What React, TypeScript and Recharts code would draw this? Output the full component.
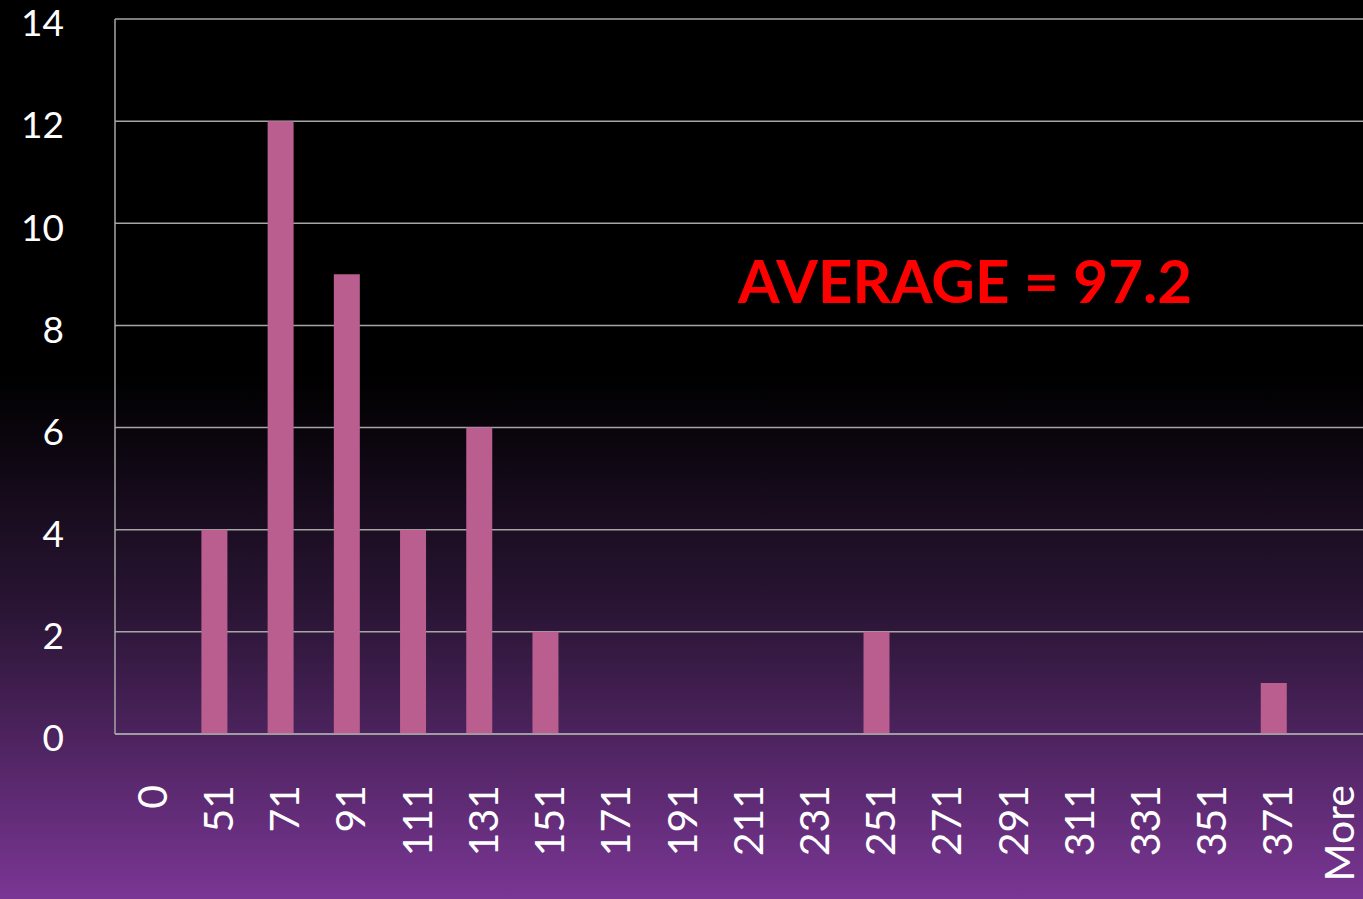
import { BarChart, Bar, XAxis, YAxis, CartesianGrid, Customized } from "recharts";

const bins = ["0", "51", "71", "91", "111", "131", "151", "171", "191", "211", "231", "251", "271", "291", "311", "331", "351", "371", "More"];
const frequency = [0, 4, 12, 9, 4, 6, 2, 0, 0, 0, 0, 2, 0, 0, 0, 0, 0, 1, 0];
const yTicks = [0, 2, 4, 6, 8, 10, 12, 14];
const averageLabel = "AVERAGE = 97.2";

const data = bins.map((bin, i) => ({ bin, count: frequency[i] }));

const FONT = "Lato, 'Open Sans', sans-serif";

function BinTick(props: any) {
  const { x, y, payload } = props;
  // numbers sit a bit right of the bar centre; "More" hugs the right edge
  const left = payload.value === "More" ? x - 1 : x + 4;
  const top = y + 43;
  return (
    <text
      x={left}
      y={top}
      transform={`rotate(-90, ${left}, ${top})`}
      textAnchor="end"
      dy="0.36em"
      fill="#ffffff"
      fontSize={41}
      fontFamily={FONT}
    >
      {payload.value}
    </text>
  );
}

function CountTick(props: any) {
  const { x, y, payload } = props;
  return (
    <text x={x + 1} y={y + 4} textAnchor="end" dy="0.36em" fill="#ffffff" fontSize={37} fontFamily={FONT}>
      {payload.value}
    </text>
  );
}

function AverageNote() {
  return (
    <text x={738} y={303} fill="#ff0000" fontSize={60} fontWeight="bold" fontFamily={FONT}>
      {averageLabel}
    </text>
  );
}

export default function App() {
  return (
    <div
      style={{
        position: "absolute",
        left: 0,
        top: 0,
        width: 1363,
        height: 899,
        overflow: "hidden",
        background: "linear-gradient(to bottom, #000000 0%, #000000 42%, #2a1535 68%, #7a3694 100%)",
      }}
    >
      <BarChart
        width={1373}
        height={899}
        data={data}
        margin={{ top: 19, right: 0, bottom: 0, left: 0 }}
        barCategoryGap="30.5%"
      >
        <CartesianGrid vertical={false} stroke="#a6a6a6" strokeWidth={1.5} />
        <XAxis
          dataKey="bin"
          interval={0}
          height={165}
          tick={<BinTick />}
          tickLine={false}
          axisLine={{ stroke: "#a6a6a6", strokeWidth: 1.5 }}
        />
        <YAxis
          width={115}
          domain={[0, 14]}
          ticks={yTicks}
          interval={0}
          tickSize={0}
          tickMargin={52}
          tickLine={false}
          axisLine={{ stroke: "#a6a6a6", strokeWidth: 1.5 }}
          tick={<CountTick />}
        />
        <Bar dataKey="count" fill="#b95e8f" isAnimationActive={false} />
        <Customized component={<AverageNote />} />
      </BarChart>
    </div>
  );
}
